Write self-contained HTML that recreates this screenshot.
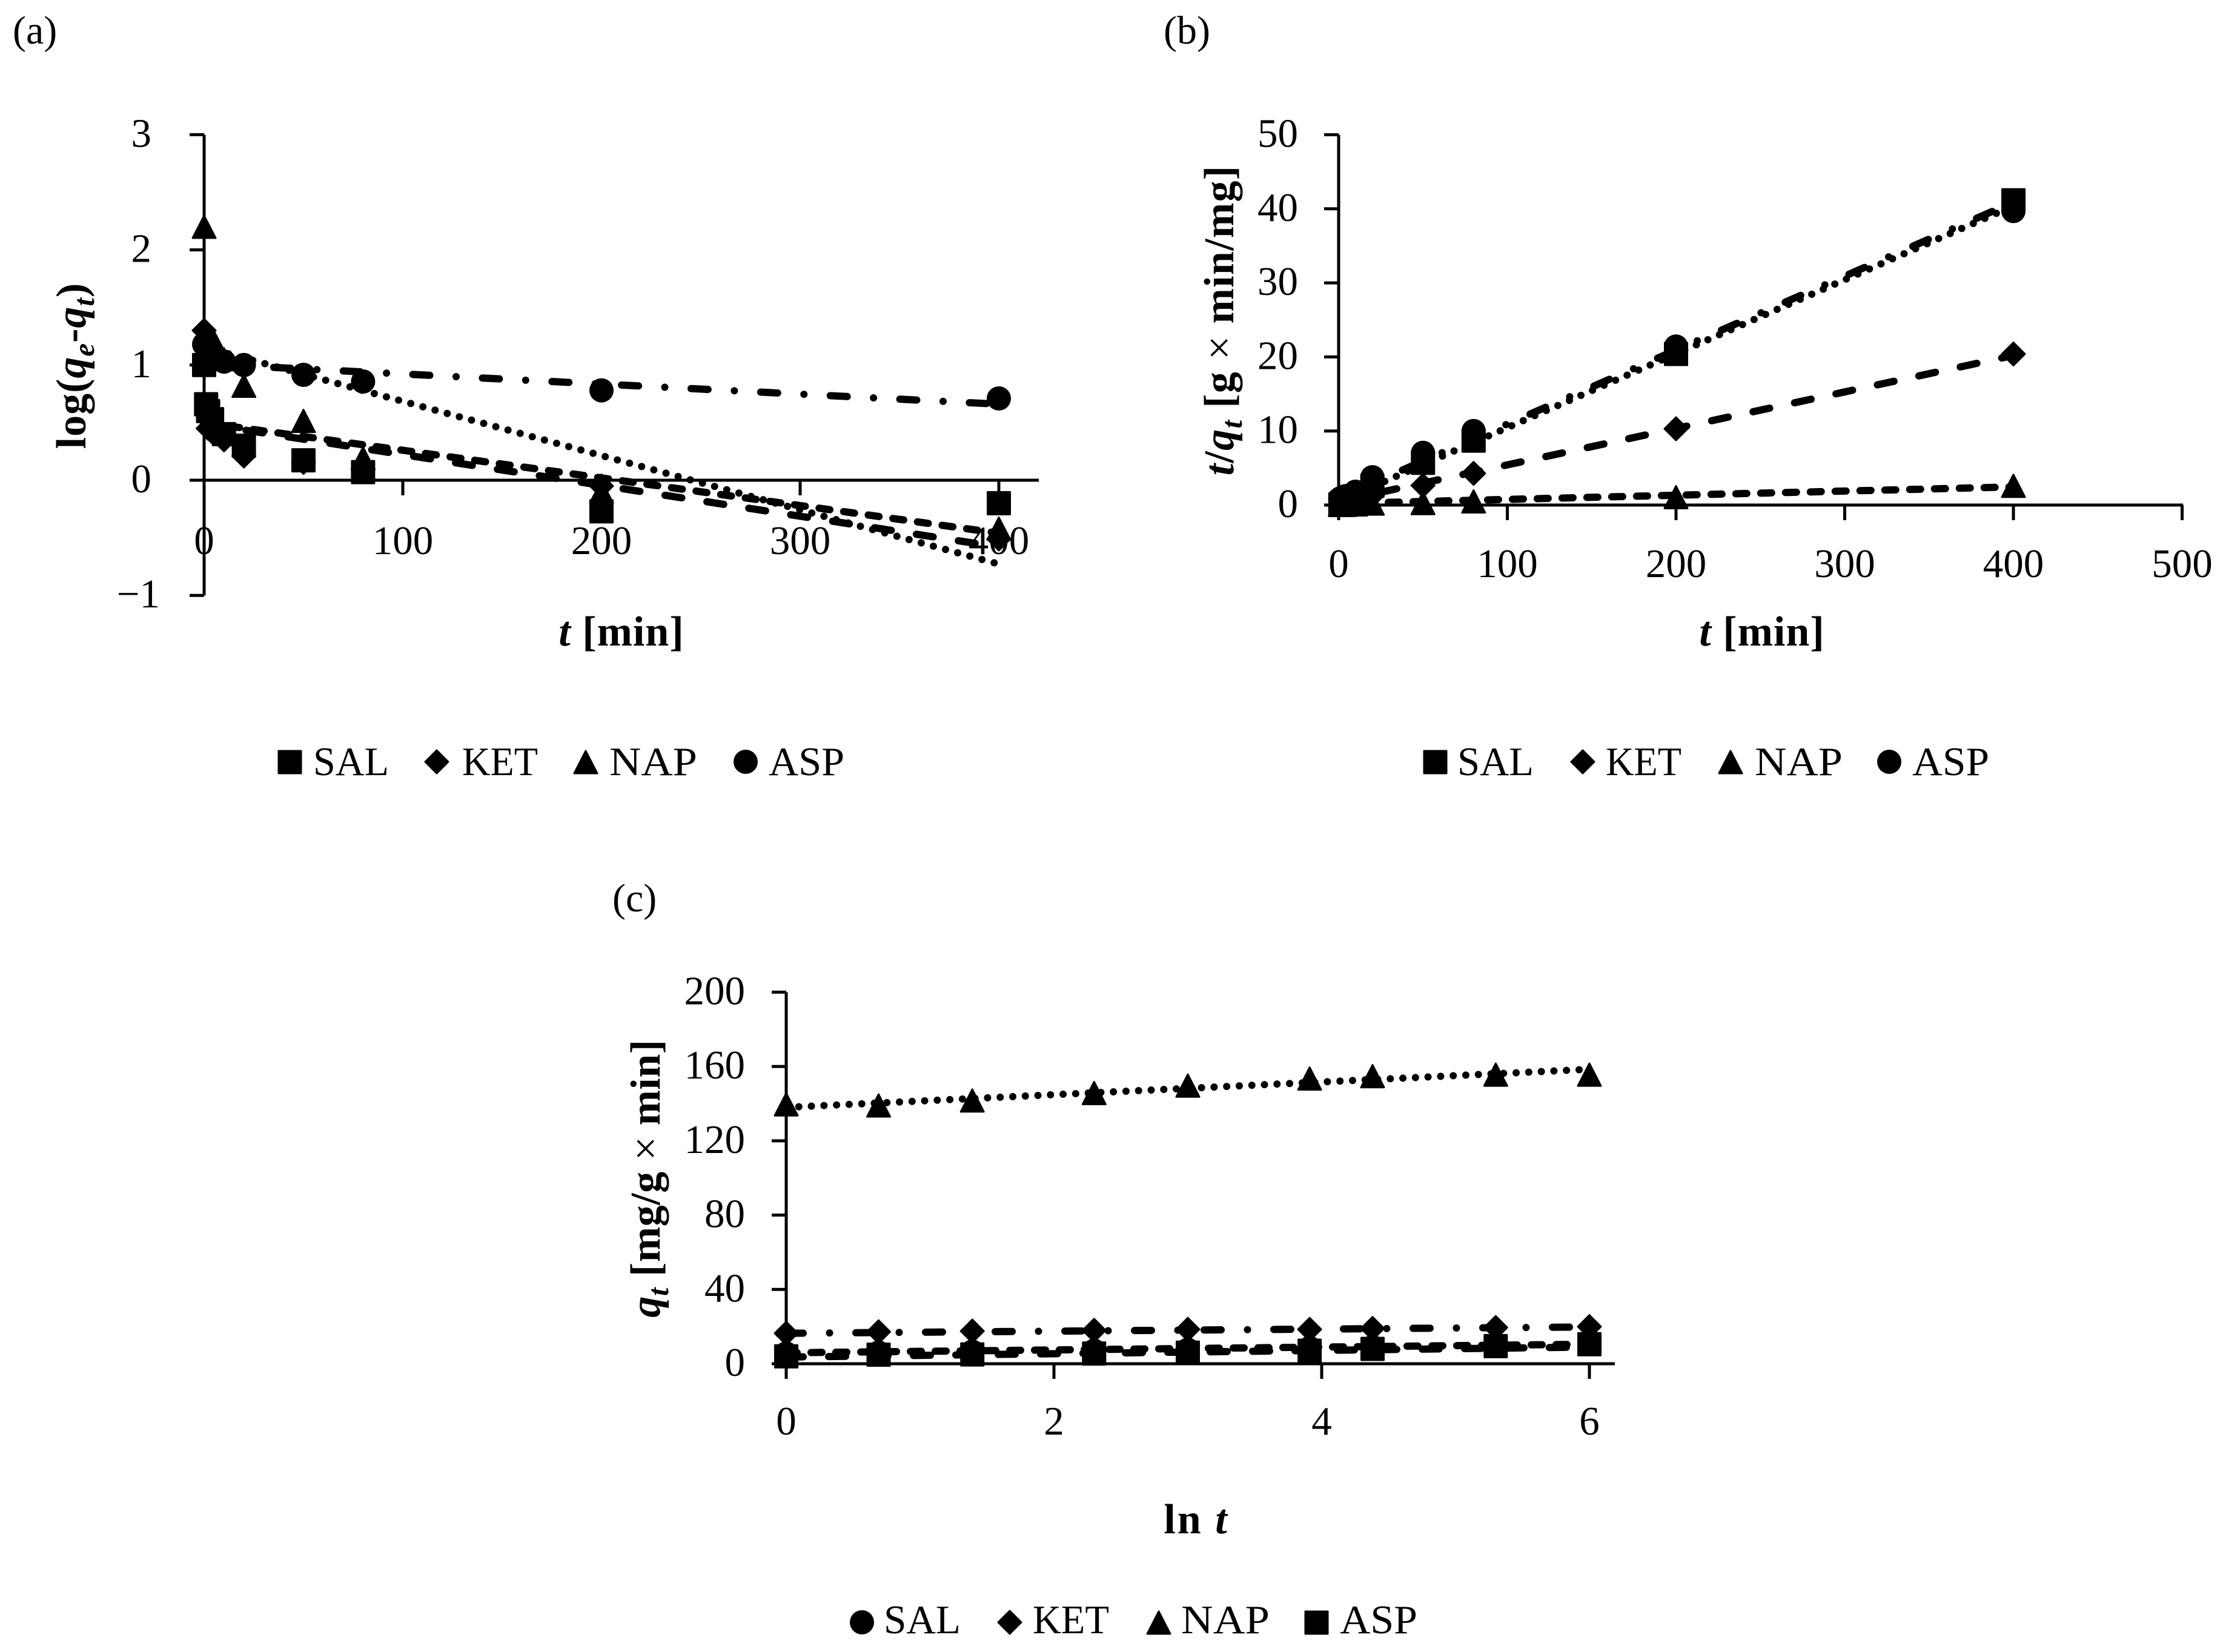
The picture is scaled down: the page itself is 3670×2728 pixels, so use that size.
<!DOCTYPE html>
<html lang="en">
<head>
<meta charset="utf-8">
<title>Kinetic model fits</title>
<style>
html,body{margin:0;padding:0;background:#fff;}
svg{display:block;}
text{font-family:"Liberation Serif",serif;fill:#000;}
.tick{font-size:67px;}
.legend{font-size:67px;}
.panel{font-size:66px;}
.title{font-size:70px;font-weight:bold;letter-spacing:1px;}
</style>
</head>
<body>
<svg id="chart" xmlns="http://www.w3.org/2000/svg" width="3670" height="2728" viewBox="0 0 3670 2728">
<rect x="0" y="0" width="3670" height="2728" fill="#fff"/>
<g id="plot-a"></g>
<g id="plot-b"></g>
<g id="plot-c"></g>

<text class="panel" x="21" y="72">(a)</text>
<text class="panel" x="1921" y="72">(b)</text>
<text class="panel" x="1011" y="1505">(c)</text>

<text class="title" x="1026" y="1066" text-anchor="middle"><tspan font-style="italic">t</tspan> [min]</text>
<text class="title" x="2909" y="1066" text-anchor="middle"><tspan font-style="italic">t</tspan> [min]</text>
<text class="title" x="1975" y="2532" text-anchor="middle" style="letter-spacing:3px">ln <tspan font-style="italic">t</tspan></text>

<text class="title" transform="translate(141 604) rotate(-90)" text-anchor="middle">log(<tspan font-style="italic">q</tspan><tspan font-style="italic" font-size="49" dy="14">e</tspan><tspan dy="-14">-</tspan><tspan font-style="italic">q</tspan><tspan font-style="italic" font-size="49" dy="14">t</tspan><tspan dy="-14">)</tspan></text>
<text class="title" transform="translate(2036 529) rotate(-90)" text-anchor="middle" style="letter-spacing:1.3px"><tspan font-style="italic">t</tspan>/<tspan font-style="italic">q</tspan><tspan font-style="italic" font-size="49" dy="14">t</tspan><tspan dy="-14"> [g </tspan><tspan font-weight="normal">×</tspan> min/mg]</text>
<text class="title" transform="translate(1089 1946) rotate(-90)" text-anchor="middle" style="letter-spacing:0.5px"><tspan font-style="italic">q</tspan><tspan font-style="italic" font-size="49" dy="14">t</tspan><tspan dy="-14"> [mg/g </tspan><tspan font-weight="normal">×</tspan> min]</text>

<g>
  <rect x="460" y="1240" width="37" height="37" stroke="#000" stroke-width="3" stroke-linejoin="round"/>
  <text class="legend" x="517" y="1280" textLength="125" lengthAdjust="spacingAndGlyphs">SAL</text>
  <path d="M721 1239L740 1258L721 1277L702 1258Z" stroke="#000" stroke-width="3" stroke-linejoin="round"/>
  <text class="legend" x="763" y="1280" textLength="125" lengthAdjust="spacingAndGlyphs">KET</text>
  <path d="M967 1240L986 1277L948 1277Z" stroke="#000" stroke-width="3" stroke-linejoin="round"/>
  <text class="legend" x="1006" y="1280" textLength="145" lengthAdjust="spacingAndGlyphs">NAP</text>
  <circle cx="1231" cy="1258" r="20"/>
  <text class="legend" x="1269" y="1280" textLength="125" lengthAdjust="spacingAndGlyphs">ASP</text>
</g>
<g>
  <rect x="2351" y="1240" width="37" height="37" stroke="#000" stroke-width="3" stroke-linejoin="round"/>
  <text class="legend" x="2406" y="1280" textLength="126" lengthAdjust="spacingAndGlyphs">SAL</text>
  <path d="M2613 1239L2632 1258L2613 1277L2594 1258Z" stroke="#000" stroke-width="3" stroke-linejoin="round"/>
  <text class="legend" x="2651" y="1280" textLength="125" lengthAdjust="spacingAndGlyphs">KET</text>
  <path d="M2857 1240L2876 1277L2838 1277Z" stroke="#000" stroke-width="3" stroke-linejoin="round"/>
  <text class="legend" x="2897" y="1280" textLength="145" lengthAdjust="spacingAndGlyphs">NAP</text>
  <circle cx="3119" cy="1258" r="20"/>
  <text class="legend" x="3157" y="1280" textLength="127" lengthAdjust="spacingAndGlyphs">ASP</text>
</g>
<g>
  <circle cx="1423" cy="2679" r="20"/>
  <text class="legend" x="1459" y="2697" textLength="127" lengthAdjust="spacingAndGlyphs">SAL</text>
  <path d="M1667 2660L1686 2679L1667 2698L1648 2679Z" stroke="#000" stroke-width="3" stroke-linejoin="round"/>
  <text class="legend" x="1705" y="2697" textLength="126" lengthAdjust="spacingAndGlyphs">KET</text>
  <path d="M1913 2661L1932 2698L1894 2698Z" stroke="#000" stroke-width="3" stroke-linejoin="round"/>
  <text class="legend" x="1950" y="2697" textLength="146" lengthAdjust="spacingAndGlyphs">NAP</text>
  <rect x="2155" y="2661" width="37" height="37" stroke="#000" stroke-width="3" stroke-linejoin="round"/>
  <text class="legend" x="2212" y="2697" textLength="128" lengthAdjust="spacingAndGlyphs">ASP</text>
</g>
</svg>

<script>
// Panel (a): pseudo-first-order
const aTimes = [0, 1, 2, 4, 10, 20, 50, 80, 200, 400];
const aSal = [1.0, 0.66, 0.6, 0.53, 0.4, 0.3, 0.173, 0.07, -0.27, -0.2];
const aKet = [1.3, null, 0.45, 0.42, 0.35, 0.21, 0.155, 0.1, -0.05, -0.51];
const aNap = [2.2, null, 1.25, 1.23, 1.05, 0.82, 0.515, 0.19, -0.1, -0.42];
const aAsp = [1.18, null, 1.1, 1.05, 1.03, 1.0, 0.915, 0.857, 0.78, 0.71];
const aTrendT = [0, 400];
const aTrendSal = [0.5, -0.46];
const aTrendKet = [0.49, -0.58];
const aTrendNap = [1.156, -0.728];
const aTrendAsp = [1.01, 0.66];
const aXTicks = [0, 100, 200, 300, 400];
const aYTicks = [3, 2, 1, 0, -1];

// Panel (b): pseudo-second-order
const bTimes = [1, 2, 4, 10, 20, 50, 80, 200, 400];
const bSal = [0.1, 0.3, 0.5, 1.2, 2.6, 5.7, 8.7, 20.4, 41.15];
const bKet = [0.1, 0.2, 0.3, 0.65, 1.3, 2.64, 4.28, 10.3, 20.4];
const bNap = [0.01, 0.02, 0.03, 0.08, 0.19, 0.27, 0.49, 1.06, 2.6];
const bAsp = [0.9, 1.0, 1.2, 1.8, 3.76, 7.05, 10.0, 21.4, 39.7];
const bTrendT = [0, 400];
const bTrendSal = [0.95, 40.9];
const bTrendKet = [0.5, 20.2];
const bTrendNap = [0.2, 2.45];
const bTrendAsp = [0.47, 40.4];
const bXTicks = [0, 100, 200, 300, 400, 500];
const bYTicks = [50, 40, 30, 20, 10, 0];

// Panel (c): intraparticle diffusion
const cLnT = [0, 0.69, 1.39, 2.3, 3.0, 3.91, 4.38, 5.3, 6.0];
const cSal = [5.5, 6, 6.5, 7, 7.5, 8.5, 9, 10, 11];
const cKet = [16.4, 17.2, 17.6, 18, 18.5, 18.5, 19, 19.5, 20];
const cNap = [139.6, 139, 141.7, 145.7, 149.7, 153.5, 154.8, 155.6, 155.6];
const cAsp = [4, 4.9, 5, 5.5, 6, 7, 8, 9.5, 10.5];
const cTrendX = [0, 6];
const cTrendSal = [5.9, 10.5];
const cTrendKet = [16.4, 19.8];
const cTrendNap = [138, 158.5];
const cTrendAsp = [3.6, 9];
const cXTicks = [0, 2, 4, 6];
const cYTicks = [200, 160, 120, 80, 40, 0];

const NS = 'http://www.w3.org/2000/svg';
const DASH = {short: '18 23', long: '28 42', dots: '0 20.8', dashDot: '28 43.5 0 43.5'};

function node(tag, parent) {
  const el = document.createElementNS(NS, tag);
  parent.appendChild(el);
  return el;
}

function line(parent, x1, y1, x2, y2) {
  const el = node('line', parent);
  el.setAttribute('x1', x1);
  el.setAttribute('y1', y1);
  el.setAttribute('x2', x2);
  el.setAttribute('y2', y2);
  el.setAttribute('stroke', '#000');
  el.setAttribute('stroke-width', 5);
  return el;
}

function drawAxes(g, p, key) {
  const left = p.x(0), base = p.y(0);
  const xAxis = line(g, left - 24, base, p.xEnd, base);
  
  
  const yAxis = line(g, left, p.y(p.yMax), left, Math.max(p.y(p.yMin), base + 25));
  
  
  p.xTicks.forEach(function (v) {
    const t = line(g, p.x(v), base, p.x(v), base + 25);
    
    
    const label = node('text', g);
    label.setAttribute('class', 'tick');
    label.setAttribute('x', p.x(v));
    label.setAttribute('y', p.xLabelY);
    label.setAttribute('text-anchor', 'middle');
    
    
    label.textContent = String(v);
  });
  p.yTicks.forEach(function (v) {
    const t = line(g, left - 24, p.y(v), left, p.y(v));
    
    
    const label = node('text', g);
    label.setAttribute('class', 'tick');
    label.setAttribute('x', p.yLabelX + (v < 0 ? 14 : 0));
    label.setAttribute('y', p.y(v) + 20);
    label.setAttribute('text-anchor', 'end');
    
    
    label.textContent = v < 0 ? '\u2212' + Math.abs(v) : String(v);
  });
}

function drawTrend(g, p, name, xs, ys, dash) {
  const el = node('path', g);
  let d = '';
  xs.forEach(function (v, i) {
    d += (i ? 'L' : 'M') + p.x(v) + ' ' + p.y(ys[i]);
  });
  el.setAttribute('d', d);
  el.setAttribute('fill', 'none');
  el.setAttribute('stroke', '#000');
  el.setAttribute('stroke-width', 12);
  el.setAttribute('stroke-linecap', 'round');
  el.setAttribute('stroke-dasharray', dash);
  
  
}

function drawMarker(g, shape, cx, cy, name) {
  let el;
  if (shape === 'circle') {
    el = node('circle', g);
    el.setAttribute('cx', cx);
    el.setAttribute('cy', cy);
    el.setAttribute('r', 20);
  } else {
    el = node('path', g);
    let d;
    if (shape === 'square') {
      d = 'M' + (cx - 18.5) + ' ' + (cy - 18.5) + 'h37v37h-37Z';
    } else if (shape === 'diamond') {
      d = 'M' + cx + ' ' + (cy - 19) + 'l19 19l-19 19l-19 -19Z';
    } else {
      d = 'M' + cx + ' ' + (cy - 18.5) + 'l19 37h-38Z';
    }
    el.setAttribute('d', d);
    el.setAttribute('stroke', '#000');
    el.setAttribute('stroke-width', 3);
    el.setAttribute('stroke-linejoin', 'round');
  }
  
  
}

function drawSeries(g, p, name, shape, xs, ys) {
  xs.forEach(function (v, i) {
    if (ys[i] === null) return;
    drawMarker(g, shape, p.x(v), p.y(ys[i]), name + '-point');
  });
}

const panelA = {
  x: function (v) { return 337 + 3.28 * v; },
  y: function (v) { return 793 - 190.2 * v; },
  xEnd: 1715, yMax: 3, yMin: -1,
  xTicks: aXTicks, yTicks: aYTicks, xLabelY: 915, yLabelX: 250
};
const panelB = {
  x: function (v) { return 2210 + 2.785 * v; },
  y: function (v) { return 834 - 12.23 * v; },
  xEnd: 3604, yMax: 50, yMin: 0,
  xTicks: bXTicks, yTicks: bYTicks, xLabelY: 953, yLabelX: 2143
};
const panelC = {
  x: function (v) { return 1298 + 221 * v; },
  y: function (v) { return 2252 - 3.068 * v; },
  xEnd: 2666, yMax: 200, yMin: 0,
  xTicks: cXTicks, yTicks: cYTicks, xLabelY: 2369, yLabelX: 1230
};

const gA = document.getElementById('plot-a');
drawAxes(gA, panelA, 'panel-a');
drawTrend(gA, panelA, 'panel-a-trend-sal', aTrendT, aTrendSal, DASH.short);
drawTrend(gA, panelA, 'panel-a-trend-ket', aTrendT, aTrendKet, DASH.long);
drawTrend(gA, panelA, 'panel-a-trend-nap', aTrendT, aTrendNap, DASH.dots);
drawTrend(gA, panelA, 'panel-a-trend-asp', aTrendT, aTrendAsp, DASH.dashDot);
drawSeries(gA, panelA, 'panel-a-sal', 'square', aTimes, aSal);
drawSeries(gA, panelA, 'panel-a-ket', 'diamond', aTimes, aKet);
drawSeries(gA, panelA, 'panel-a-nap', 'triangle', aTimes, aNap);
drawSeries(gA, panelA, 'panel-a-asp', 'circle', aTimes, aAsp);

const gB = document.getElementById('plot-b');
drawAxes(gB, panelB, 'panel-b');
drawTrend(gB, panelB, 'panel-b-trend-sal', bTrendT, bTrendSal, DASH.dashDot);
drawTrend(gB, panelB, 'panel-b-trend-ket', bTrendT, bTrendKet, DASH.long);
drawTrend(gB, panelB, 'panel-b-trend-nap', bTrendT, bTrendNap, DASH.short);
drawTrend(gB, panelB, 'panel-b-trend-asp', bTrendT, bTrendAsp, DASH.dots);
drawSeries(gB, panelB, 'panel-b-sal', 'square', bTimes, bSal);
drawSeries(gB, panelB, 'panel-b-ket', 'diamond', bTimes, bKet);
drawSeries(gB, panelB, 'panel-b-nap', 'triangle', bTimes, bNap);
drawSeries(gB, panelB, 'panel-b-asp', 'circle', bTimes, bAsp);

const gC = document.getElementById('plot-c');
drawAxes(gC, panelC, 'panel-c');
drawTrend(gC, panelC, 'panel-c-trend-sal', cTrendX, cTrendSal, DASH.short);
drawTrend(gC, panelC, 'panel-c-trend-ket', cTrendX, cTrendKet, DASH.dashDot);
drawTrend(gC, panelC, 'panel-c-trend-nap', cTrendX, cTrendNap, DASH.dots);
drawTrend(gC, panelC, 'panel-c-trend-asp', cTrendX, cTrendAsp, DASH.long);
drawSeries(gC, panelC, 'panel-c-sal', 'circle', cLnT, cSal);
drawSeries(gC, panelC, 'panel-c-ket', 'diamond', cLnT, cKet);
drawSeries(gC, panelC, 'panel-c-nap', 'triangle', cLnT, cNap);
drawSeries(gC, panelC, 'panel-c-asp', 'square', cLnT, cAsp);
</script>
</body>
</html>
